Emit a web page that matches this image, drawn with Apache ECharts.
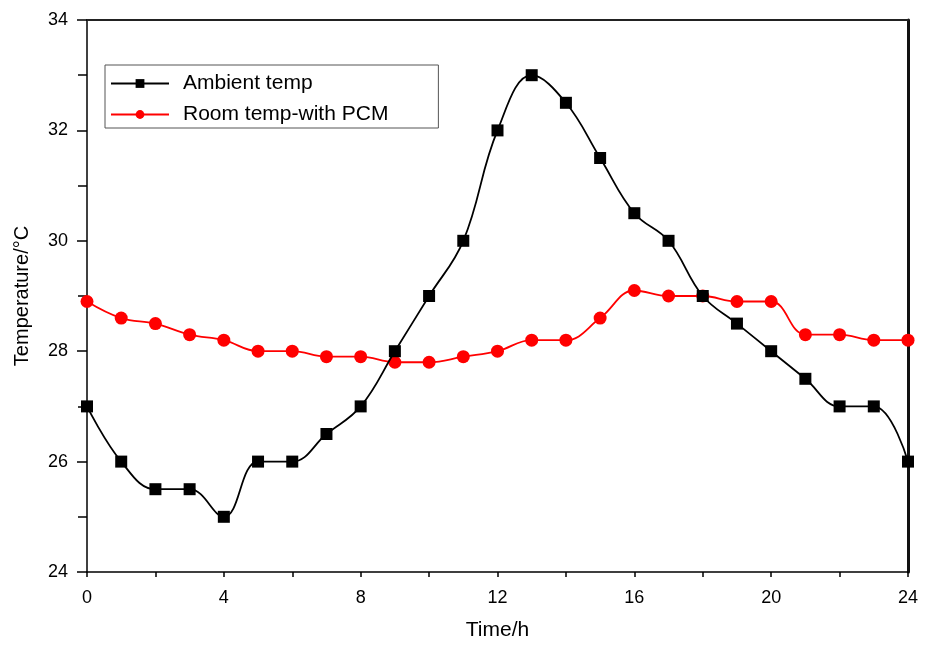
<!DOCTYPE html>
<html><head><meta charset="utf-8">
<script src="https://cdn.jsdelivr.net/npm/echarts@6/dist/echarts.min.js"></script>
<style>html,body{margin:0;padding:0;background:#fff}#c{width:934px;height:646px}</style>
</head><body><div id="c"></div>
<script>
const hours = [0,1,2,3,4,5,6,7,8,9,10,11,12,13,14,15,16,17,18,19,20,21,22,23,24];
const ambientTemp = [27,26,25.5,25.5,25,26,26,26.5,27,28,29,30,32,33,32.5,31.5,30.5,30,29,28.5,28,27.5,27,27,26];
const roomTempPCM = [28.9,28.6,28.5,28.3,28.2,28.0,28.0,27.9,27.9,27.8,27.8,27.9,28.0,28.2,28.2,28.6,29.1,29.0,29.0,28.9,28.9,28.3,28.3,28.2,28.2];
const seriesNames = ['Ambient temp','Room temp-with PCM'];

const font = 'Liberation Sans, Arial, Helvetica, sans-serif';
const chart = echarts.init(document.getElementById('c'), null, {renderer:'canvas'});
const pair = (xs, ys) => xs.map((x,i)=>[x, ys[i]]);
chart.setOption({
  animation:false,
  backgroundColor:'#fff',
  grid:{left:87,right:26,top:20,bottom:74,containLabel:false},
  legend:{
    orient:'vertical', left:105, top:65,
    data:seriesNames,
    itemWidth:58, itemHeight:11, itemGap:10,
    padding:[8,50,3,5],
    borderColor:'#555', borderWidth:1,
    textStyle:{fontFamily:font,fontSize:21,color:'#000',padding:[0,0,0,9]},
    itemStyle:{borderWidth:0}
  },
  xAxis:[{
    type:'value', min:0, max:24, interval:4,
    name:'Time/h', nameLocation:'middle', nameGap:48,
    nameTextStyle:{fontFamily:font,fontSize:21,color:'#000'},
    axisLine:{show:true,onZero:false,lineStyle:{color:'#000',width:1.5}},
    axisTick:{show:true,inside:false,length:5,lineStyle:{color:'#000',width:1.5}},
    minorTick:{show:true,splitNumber:2,length:5,lineStyle:{color:'#000',width:1.5}},
    axisLabel:{fontFamily:font,fontSize:18,color:'#000',margin:17},
    splitLine:{show:false}
  },{
    type:'value', min:0, max:24, position:'top',
    axisLine:{show:true,onZero:false,lineStyle:{color:'#222',width:1.8}},
    axisTick:{show:false}, axisLabel:{show:false}, splitLine:{show:false}
  }],
  yAxis:[{
    type:'value', min:24, max:34, interval:2,
    name:'Temperature/°C', nameLocation:'middle', nameGap:55,
    nameTextStyle:{fontFamily:font,fontSize:20,color:'#000'},
    axisLine:{show:true,onZero:false,lineStyle:{color:'#000',width:1.5}},
    axisTick:{show:true,inside:false,length:10,lineStyle:{color:'#000',width:1.5}},
    minorTick:{show:true,splitNumber:2,length:9,lineStyle:{color:'#000',width:1.5}},
    axisLabel:{fontFamily:font,fontSize:18,color:'#000',margin:19},
    splitLine:{show:false}
  },{
    type:'value', min:24, max:34, position:'right',
    axisLine:{show:true,onZero:false,lineStyle:{color:'#111',width:3}},
    axisTick:{show:false}, axisLabel:{show:false}, splitLine:{show:false}
  }],
  series:[{
    name:seriesNames[0], type:'line', data:pair(hours, ambientTemp),
    smooth:0.4, symbol:'rect', symbolSize:12, showAllSymbol:true,
    lineStyle:{color:'#000',width:1.8}, itemStyle:{color:'#000'}, z:3
  },{
    name:seriesNames[1], type:'line', data:pair(hours, roomTempPCM),
    smooth:0.4, symbol:'circle', symbolSize:13, showAllSymbol:true,
    lineStyle:{color:'#ff0000',width:1.8}, itemStyle:{color:'#ff0000'}, z:2
  }]
});
</script></body></html>
